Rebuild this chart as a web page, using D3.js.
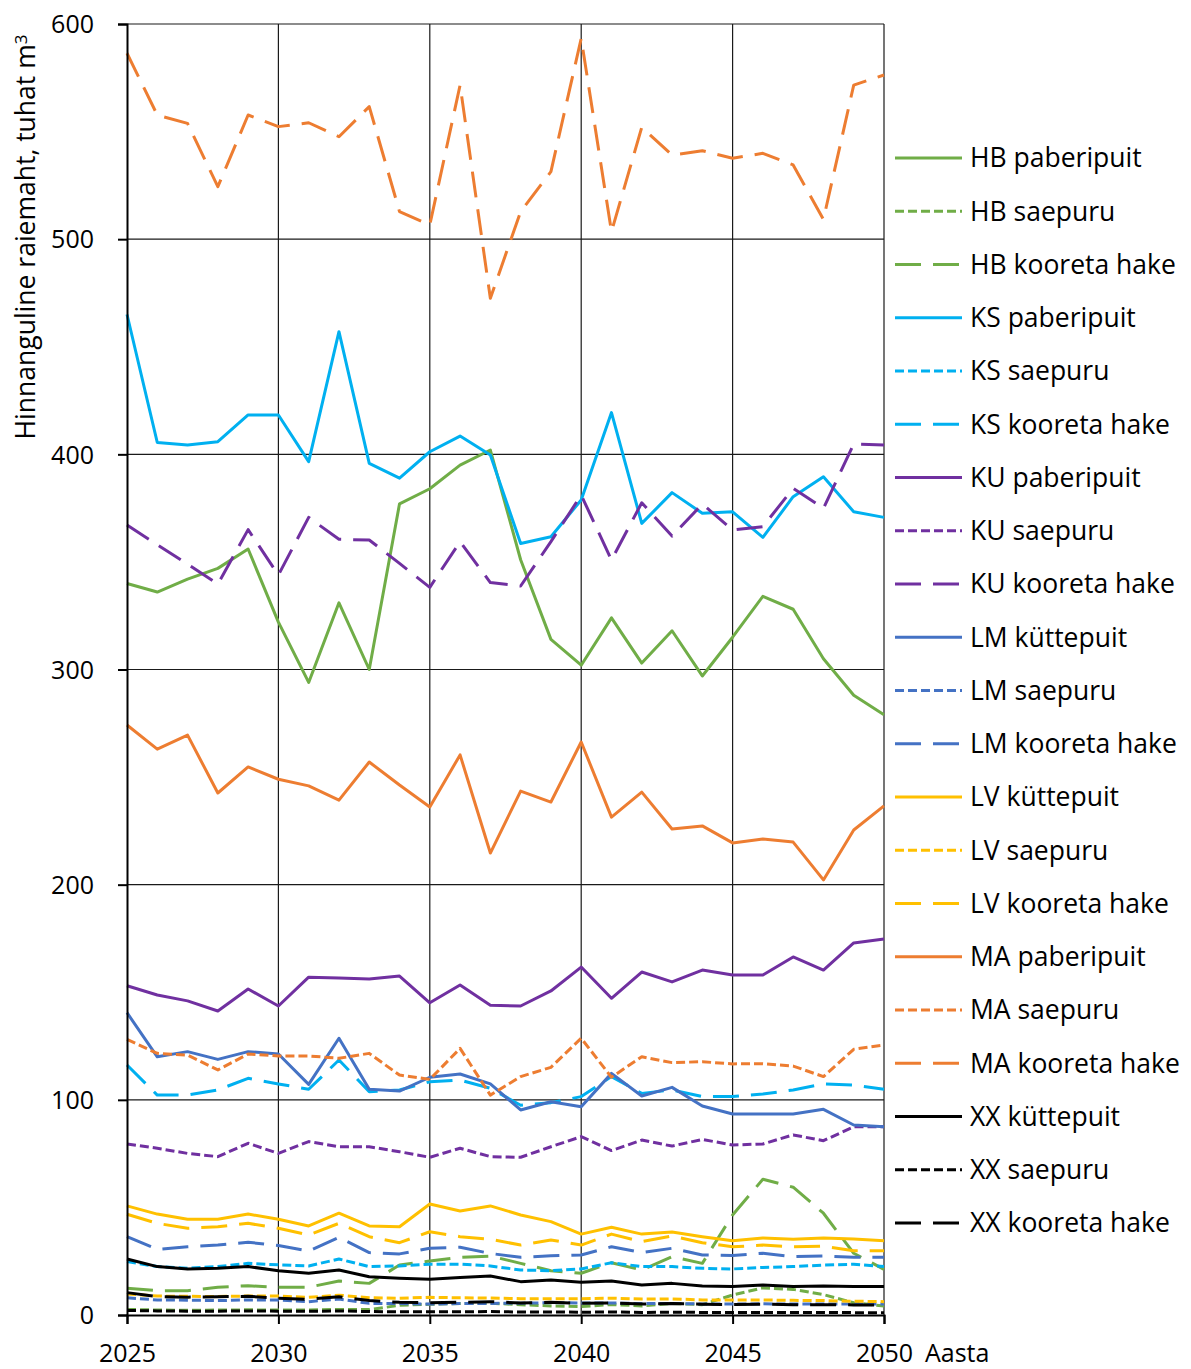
<!DOCTYPE html>
<html>
<head>
<meta charset="utf-8">
<script src="https://cdn.jsdelivr.net/npm/d3@7"></script>
<style>
  html, body { margin: 0; padding: 0; background: #fff; }
  svg text { font-family: "Open Sans", "Noto Sans", sans-serif; fill: #000; }
</style>
</head>
<body>
<svg id="chart" width="1191" height="1369"></svg>
<script>
// categories
const years = [2025, 2026, 2027, 2028, 2029, 2030, 2031, 2032, 2033, 2034, 2035, 2036, 2037,
	2038, 2039, 2040, 2041, 2042, 2043, 2044, 2045, 2046, 2047, 2048, 2049, 2050];

// series values, tuhat m3
const hbPaberipuit = [340, 336, 342, 347, 356, 322, 294, 331, 300, 377, 384, 395, 402, 351, 314, 302, 324, 303, 318, 297, 315, 334, 328, 305, 288, 279];
const hbSaepuru = [2.6, 2.3, 2.2, 2.3, 2.4, 2.3, 2.3, 2.6, 2.5, 4.5, 5.0, 5.3, 5.5, 4.8, 4.2, 3.9, 4.9, 4.2, 5.4, 4.8, 9.3, 12.6, 11.9, 9.5, 5.7, 4.2];
const hbKooretaHake = [12.4, 11.3, 11.3, 12.9, 13.6, 12.9, 12.9, 15.8, 14.7, 23.2, 25.1, 26.8, 27.4, 24, 20.6, 19.4, 24.3, 20.9, 27.1, 24, 46.5, 63.1, 59.4, 47.3, 28.7, 21.2];

const ksPaberipuit = [465, 405.5, 404.3, 405.9, 418.3, 418.3, 396.6, 457, 395.8, 388.9, 401.2, 408.5, 399.7, 358.6, 361.7, 378.8, 419.4, 367.9, 382.2, 372.6, 373.3, 361.4, 380.3, 389.6, 373.3, 370.7];
const ksSaepuru = [24.8, 22.5, 21.7, 22.5, 24, 23.3, 22.8, 26, 22.5, 22.8, 23.6, 23.6, 22.8, 20.9, 20.6, 21.4, 24.3, 22.5, 22.5, 21.7, 21.4, 22.1, 22.5, 23.2, 23.6, 22.5];
const ksKooretaHake = [116.2, 102.2, 102.2, 104.6, 110, 107.4, 104.9, 118.5, 103.8, 104.6, 108.4, 109.2, 105.4, 97.5, 98.7, 101.5, 110.8, 103, 104.6, 101.5, 101.5, 102.7, 104.6, 107.4, 106.9, 104.9];

const kuPaberipuit = [153, 148.7, 146, 141.3, 151.5, 143.6, 157, 156.6, 156.2, 157.5, 145.1, 153.4, 144, 143.6, 150.6, 161.7, 147.2, 159.4, 154.8, 160.3, 158, 158, 166.4, 160.3, 172.9, 174.7];
const kuSaepuru = [79.5, 77.5, 75.1, 73.6, 79.8, 75.1, 80.6, 78.2, 78.2, 75.9, 73.3, 77.5, 73.6, 73.3, 78.2, 82.9, 76.4, 81.3, 78.5, 81.6, 79, 79.5, 83.7, 81, 87.5, 87.5];
const kuKooretaHake = [367.2, 358, 349, 339.7, 365, 343.9, 370.7, 360.5, 360.2, 349.3, 338.2, 359.4, 340.4, 338.8, 359.4, 381.1, 350.9, 377.5, 362, 376.9, 364.8, 366.4, 384.2, 374.9, 404.8, 404.3];

const lmKuttepuit = [140.5, 120, 122.4, 118.8, 122.4, 121.3, 107.2, 128.6, 104.9, 104.1, 110.5, 112, 107.4, 95.3, 99.1, 96.8, 112.3, 101.8, 105.8, 97.1, 93.4, 93.4, 93.4, 95.6, 88.3, 87.5];
const lmSaepuru = [8, 7, 6.9, 6.7, 7, 7, 6.2, 7.4, 5.4, 5.3, 5.1, 5.3, 5.4, 5.5, 5.7, 5.6, 5.6, 5.3, 5.4, 5.1, 5.1, 5.2, 5.1, 5.1, 5.1, 5.1];
const lmKooretaHake = [36.4, 30.5, 31.7, 32.5, 33.8, 32.3, 29.7, 36.1, 29, 28.4, 31, 31.5, 28.6, 26.8, 27.5, 27.9, 31.7, 29, 31, 27.9, 27.6, 28.7, 27.1, 27.4, 26.8, 26.8];

const lvKuttepuit = [50.7, 46.9, 44.5, 44.5, 46.9, 44.5, 41.4, 47.3, 41.4, 41, 51.6, 48.3, 50.7, 46.5, 43.4, 37.6, 40.8, 37.6, 38.6, 36.4, 34.5, 35.8, 35.2, 35.8, 35.3, 34.5];
const lvSaepuru = [9.8, 8.8, 8.7, 8.6, 8.8, 8.8, 8.2, 9.2, 8.0, 7.8, 8.2, 8.0, 7.9, 7.6, 7.6, 7.6, 7.8, 7.4, 7.5, 7.0, 7.0, 7.0, 6.8, 6.7, 6.4, 6.2];
const lvKooretaHake = [46.8, 42.6, 40.3, 41, 42.6, 40.3, 37.2, 42.6, 36.4, 33.6, 38.7, 36.4, 35.2, 32.5, 34.9, 32.5, 37.6, 34.1, 36.7, 33.6, 31.7, 32.5, 31.7, 32, 29.9, 29.9];

const maPaberipuit = [274.2, 263, 269.5, 242.6, 254.7, 249, 245.9, 239.3, 257, 246.3, 236.1, 260.3, 214.7, 243.5, 238.4, 266.3, 231.4, 243, 225.9, 227.3, 219.4, 221.2, 219.8, 202.2, 225.4, 236.6];
const maSaepuru = [128.1, 121.6, 120.8, 113.9, 121.3, 120.4, 120.4, 119.3, 121.6, 111.5, 109.5, 123.9, 102.2, 110.8, 115.1, 128.6, 110.5, 120, 117.3, 117.7, 116.7, 116.8, 115.7, 110.8, 123.5, 125.5];
const maKooretaHake = [586.4, 557.7, 553.8, 524.4, 557.7, 552.3, 554.1, 547.6, 561.6, 512.8, 506.6, 571.6, 472.5, 512.8, 531.4, 593.3, 503.5, 552, 539.1, 541.1, 537.6, 539.9, 534.5, 509.2, 571.6, 576.3];

const xxKuttepuit = [26, 22.5, 21.4, 21.7, 22.5, 20.6, 19.4, 20.9, 17.8, 17.1, 16.6, 17.4, 18.1, 15.5, 16.3, 15.2, 15.8, 13.9, 14.7, 13.5, 13.2, 13.9, 13.2, 13.5, 13.2, 13.2];
const xxSaepuru = [2.1, 1.9, 1.8, 1.8, 1.9, 1.8, 1.7, 1.9, 1.6, 1.5, 1.5, 1.5, 1.6, 1.4, 1.4, 1.3, 1.4, 1.2, 1.3, 1.2, 1.2, 1.2, 1.2, 1.2, 1.1, 1.1];
const xxKooretaHake = [10.4, 8.5, 8.3, 8.5, 8.7, 7.8, 7.3, 8.5, 6.7, 5.9, 5.7, 5.9, 6.2, 5.6, 5.9, 5.4, 5.6, 5.1, 5.3, 5.0, 4.9, 5.0, 4.8, 4.8, 4.7, 4.6];

// tick labels
const yTicks = [0, 100, 200, 300, 400, 500, 600];
const xTicks = [2025, 2030, 2035, 2040, 2045, 2050];

//=========================================================================

const colors = {HB: '#70AD47', KS: '#00B0F0', KU: '#7030A0', LM: '#4472C4', LV: '#FFC000', MA: '#ED7D31', XX: '#000000'};
const dashes = {paberipuit: null, kuttepuit: null, saepuru: '9,4', kooreta: '26,12'};

const series = [
	{name: 'HB paberipuit', values: hbPaberipuit, color: colors.HB, dash: dashes.paberipuit},
	{name: 'HB saepuru', values: hbSaepuru, color: colors.HB, dash: dashes.saepuru},
	{name: 'HB kooreta hake', values: hbKooretaHake, color: colors.HB, dash: dashes.kooreta},
	{name: 'KS paberipuit', values: ksPaberipuit, color: colors.KS, dash: dashes.paberipuit},
	{name: 'KS saepuru', values: ksSaepuru, color: colors.KS, dash: dashes.saepuru},
	{name: 'KS kooreta hake', values: ksKooretaHake, color: colors.KS, dash: dashes.kooreta},
	{name: 'KU paberipuit', values: kuPaberipuit, color: colors.KU, dash: dashes.paberipuit},
	{name: 'KU saepuru', values: kuSaepuru, color: colors.KU, dash: dashes.saepuru},
	{name: 'KU kooreta hake', values: kuKooretaHake, color: colors.KU, dash: dashes.kooreta},
	{name: 'LM küttepuit', values: lmKuttepuit, color: colors.LM, dash: dashes.kuttepuit},
	{name: 'LM saepuru', values: lmSaepuru, color: colors.LM, dash: dashes.saepuru},
	{name: 'LM kooreta hake', values: lmKooretaHake, color: colors.LM, dash: dashes.kooreta},
	{name: 'LV küttepuit', values: lvKuttepuit, color: colors.LV, dash: dashes.kuttepuit},
	{name: 'LV saepuru', values: lvSaepuru, color: colors.LV, dash: dashes.saepuru},
	{name: 'LV kooreta hake', values: lvKooretaHake, color: colors.LV, dash: dashes.kooreta},
	{name: 'MA paberipuit', values: maPaberipuit, color: colors.MA, dash: dashes.paberipuit},
	{name: 'MA saepuru', values: maSaepuru, color: colors.MA, dash: dashes.saepuru},
	{name: 'MA kooreta hake', values: maKooretaHake, color: colors.MA, dash: dashes.kooreta},
	{name: 'XX küttepuit', values: xxKuttepuit, color: colors.XX, dash: dashes.kuttepuit},
	{name: 'XX saepuru', values: xxSaepuru, color: colors.XX, dash: dashes.saepuru},
	{name: 'XX kooreta hake', values: xxKooretaHake, color: colors.XX, dash: dashes.kooreta}
];

const svg = d3.select('#chart');

const //
	plotLeft = 127,
	plotRight = 884,
	plotTop = 24,
	plotBottom = 1315;

const x = d3.scaleLinear().domain([2025, 2050]).range([plotLeft, plotRight]);
const y = d3.scaleLinear().domain([0, 600]).range([plotBottom, plotTop]);

svg.append('rect').attr('width', 1191).attr('height', 1369).attr('fill', '#fff');

// grid
svg.append('g')
	.selectAll('line')
	.data(yTicks.filter(d => d > 0))
	.join('line')
	.attr('x1', plotLeft).attr('x2', plotRight)
	.attr('y1', d => y(d)).attr('y2', d => y(d))
	.attr('stroke', '#1a1a1a').attr('stroke-width', 1.2);

svg.append('g')
	.selectAll('line')
	.data(xTicks.filter(d => d > 2025))
	.join('line')
	.attr('x1', d => x(d)).attr('x2', d => x(d))
	.attr('y1', plotTop).attr('y2', plotBottom)
	.attr('stroke', '#1a1a1a').attr('stroke-width', 1.2);

// series
const line = d3.line()
	.x((d, i) => x(years[i]))
	.y(d => y(d));

svg.append('g')
	.selectAll('path')
	.data(series)
	.join('path')
	.attr('d', d => line(d.values))
	.attr('fill', 'none')
	.attr('stroke', d => d.color)
	.attr('stroke-width', 3)
	.attr('stroke-linejoin', 'round')
	.attr('stroke-dasharray', d => d.dash);

// axes
const yAxis = svg.append('g')
	.attr('transform', `translate(${plotLeft},0)`)
	.call(d3.axisLeft(y).tickValues(yTicks).tickSize(9).tickPadding(24));
const xAxis = svg.append('g')
	.attr('transform', `translate(0,${plotBottom})`)
	.call(d3.axisBottom(x).tickValues(xTicks).tickSize(9).tickFormat(d3.format('d')).tickPadding(20));

[yAxis, xAxis].forEach(g => {
	g.select('.domain').attr('stroke', '#000').attr('stroke-width', 2);
	g.selectAll('.tick line').attr('stroke', '#000').attr('stroke-width', 2);
	g.selectAll('.tick text').style('font-size', '25px').attr('fill', '#000');
});
yAxis.selectAll('.tick text').attr('dy', '0.35em');
xAxis.selectAll('.tick text').attr('dy', '0.71em');

svg.append('text')
	.attr('x', 925).attr('y', 1362)
	.style('font-size', '25px')
	.text('Aasta');

// y axis title
const yTitle = svg.append('text')
	.attr('transform', 'translate(35,237) rotate(-90)')
	.attr('text-anchor', 'middle')
	.style('font-size', '26.5px');
yTitle.append('tspan').text('Hinnanguline raiemaht, tuhat m');
yTitle.append('tspan').attr('dy', '-0.45em').style('font-size', '17px').text('3');

// legend
const legend = svg.append('g')
	.selectAll('g')
	.data(series)
	.join('g')
	.attr('transform', (d, i) => `translate(895,${158 + i * 53.25})`);

legend.append('line')
	.attr('x1', 0).attr('x2', 67)
	.attr('stroke', d => d.color)
	.attr('stroke-width', 3)
	.attr('stroke-dasharray', d => d.dash);

legend.append('text')
	.attr('x', 75)
	.attr('dy', '0.35em')
	.style('font-size', '26.5px')
	.text(d => d.name);
</script>
</body>
</html>
